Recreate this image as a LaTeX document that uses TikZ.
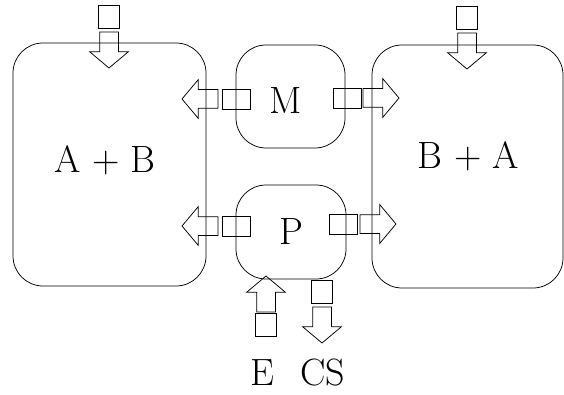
\documentclass[tikz,border=0pt]{standalone}
\usepackage{fontspec}
\usepackage{tikz}
\usetikzlibrary{shapes.arrows,positioning}

\begin{document}
\begin{tikzpicture}[
  x=1pt, y=1pt,
  font=\fontsize{38}{42}\selectfont,
  zone/.style={draw, line width=0.75pt, rounded corners=30pt, inner sep=0pt},
  pad/.style={draw, line width=0.75pt, minimum width=21pt, minimum height=23pt,
              inner sep=0pt, outer sep=0pt},
  sidepad/.style={pad, minimum width=28pt, minimum height=20pt},
  flow/.style={single arrow, draw, line width=0.75pt, minimum height=36pt,
               inner xsep=0pt, inner ysep=9pt, outer sep=0pt,
               single arrow head extend=10pt, single arrow tip angle=100, anchor=tip},
  node distance=4pt,
]
\useasboundingbox (0,0) rectangle (564,394);

\node[zone, minimum width=193pt, minimum height=243pt] (ab) at (109.5,229.5) {};
\node[zone, minimum width=191pt, minimum height=243pt] (ba) at (467.5,227.5) {};
\node[zone, minimum width=109pt, minimum height=103pt] (m) at (290.5,297.5) {};
\node[zone, minimum width=110pt, minimum height=94pt] (p) at (291,162) {P};
\node (ablabel) at (105,234) {A + B};
\node (balabel) at (468.5,238) {B + A};
\node (mlabel) at (286,293) {M};

\node[flow, rotate=-90] (inab) at (109,326) {};
\node[pad, above=of inab.tail] (inabpad) {};
\node[flow, rotate=-90] (inba) at (467,325) {};
\node[pad, above=of inba.tail] (inbapad) {};

\node[flow, rotate=180] (mab) at (182,295) {};
\node[sidepad, right=of mab.tail] (mabpad) {};
\node[flow] (mba) at (399,296) {};
\node[sidepad, left=2pt of mba.tail] (mbapad) {};

\node[flow, rotate=180] (pab) at (182,168) {};
\node[sidepad, right=of pab.tail] (pabpad) {};
\node[flow] (pba) at (396,170) {};
\node[sidepad, left=3pt of pba.tail] (pbapad) {};

\node[flow, rotate=90] (ine) at (266,118) {};
\node[pad, below=1pt of ine.tail] (inepad) {};
\node[flow, rotate=-90] (outcs) at (322,51) {};
\node[pad, above=of outcs.tail] (outcspad) {};

\node (elabel) at (262.5,21) {E};
\node (cslabel) at (322.5,21) {CS};
\end{tikzpicture}
\end{document}
